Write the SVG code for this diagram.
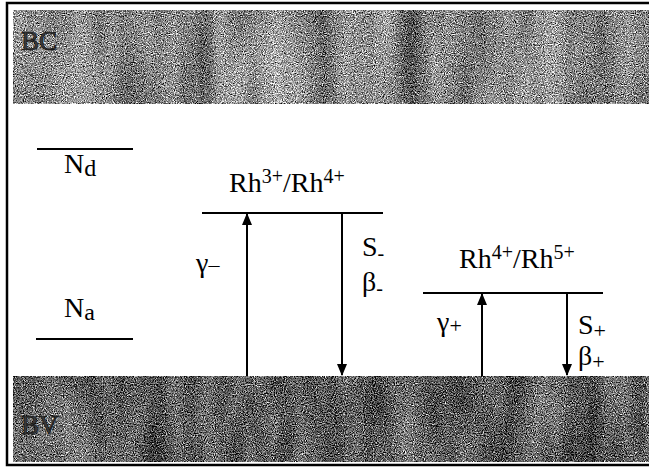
<svg xmlns="http://www.w3.org/2000/svg" width="649" height="468" viewBox="0 0 649 468">
  <style>
    .t { font-family: "Liberation Serif", "DejaVu Serif", "Times New Roman", serif; fill: #000; font-size: 28px; }
    .band-lbl { font-family: "Liberation Serif", "DejaVu Serif", serif; font-size: 27px; fill: #3c3c3c; stroke: #111; stroke-width: 0.7; }
    .lvl { stroke: #000; stroke-width: 2; fill: none; }
    .arr { stroke: #000; stroke-width: 2; fill: none; }
  </style>
  <defs>
    <filter id="noiseLight" x="0" y="0" width="100%" height="100%" color-interpolation-filters="sRGB">
      <feTurbulence type="fractalNoise" baseFrequency="0.9" numOctaves="2" seed="4" result="t1"/>
      <feColorMatrix in="t1" type="matrix" values="0.33 0.33 0.33 0 0  0.33 0.33 0.33 0 0  0.33 0.33 0.33 0 0  0 0 0 0 1" result="g1"/>
      <feTurbulence type="fractalNoise" baseFrequency="0.03 0.006" numOctaves="2" seed="7" result="t2"/>
      <feColorMatrix in="t2" type="matrix" values="0.33 0.33 0.33 0 0  0.33 0.33 0.33 0 0  0.33 0.33 0.33 0 0  0 0 0 0 1" result="g2"/>
      <feComposite in="g1" in2="g2" operator="arithmetic" k2="1" k3="0.3" k4="-0.15" result="m"/>
      <feComponentTransfer in="m" result="c">
        <feFuncR type="linear" slope="3" intercept="-0.98"/>
        <feFuncG type="linear" slope="3" intercept="-0.98"/>
        <feFuncB type="linear" slope="3" intercept="-0.98"/>
        <feFuncA type="linear" slope="0" intercept="1"/>
      </feComponentTransfer>
      <feComposite in="c" in2="SourceGraphic" operator="in"/>
    </filter>
    <filter id="noiseDark" x="0" y="0" width="100%" height="100%" color-interpolation-filters="sRGB">
      <feTurbulence type="fractalNoise" baseFrequency="0.9" numOctaves="2" seed="9" result="t1"/>
      <feColorMatrix in="t1" type="matrix" values="0.33 0.33 0.33 0 0  0.33 0.33 0.33 0 0  0.33 0.33 0.33 0 0  0 0 0 0 1" result="g1"/>
      <feTurbulence type="fractalNoise" baseFrequency="0.03 0.008" numOctaves="2" seed="2" result="t2"/>
      <feColorMatrix in="t2" type="matrix" values="0.33 0.33 0.33 0 0  0.33 0.33 0.33 0 0  0.33 0.33 0.33 0 0  0 0 0 0 1" result="g2"/>
      <feComposite in="g1" in2="g2" operator="arithmetic" k2="1" k3="0.3" k4="-0.15" result="m"/>
      <feComponentTransfer in="m" result="c">
        <feFuncR type="linear" slope="3" intercept="-1.12"/>
        <feFuncG type="linear" slope="3" intercept="-1.12"/>
        <feFuncB type="linear" slope="3" intercept="-1.12"/>
        <feFuncA type="linear" slope="0" intercept="1"/>
      </feComponentTransfer>
      <feComposite in="c" in2="SourceGraphic" operator="in"/>
    </filter>
    <marker id="ah" markerWidth="12" markerHeight="10" refX="11" refY="5" orient="auto" markerUnits="userSpaceOnUse" viewBox="0 0 12 10">
      <path d="M0,0 L12,5 L0,10 Z" fill="#000"/>
    </marker>
  </defs>

  <rect x="0" y="0" width="649" height="468" fill="#fff"/>
  <rect id="frame" x="7" y="3" width="660" height="462" fill="none" stroke="#000" stroke-width="2.5"/>

  <g id="BC">
    <rect x="13" y="10" width="636" height="94" fill="#888" filter="url(#noiseLight)"/>
    <text class="band-lbl" x="21" y="50">BC</text>
  </g>

  <g id="BV">
    <rect x="13" y="376" width="636" height="86" fill="#666" filter="url(#noiseDark)"/>
    <text class="band-lbl" x="21" y="434">BV</text>
  </g>

  <g id="Nd">
    <line class="lvl" x1="37" y1="149" x2="133" y2="149"/>
    <text class="t" x="64" y="173">N<tspan font-size="24" dy="3">d</tspan></text>
  </g>

  <g id="Na">
    <line class="lvl" x1="36" y1="339" x2="133" y2="339"/>
    <text class="t" x="64" y="317">N<tspan font-size="24" dy="3">a</tspan></text>
  </g>

  <g id="Rh34">
    <line class="lvl" x1="202" y1="213" x2="383" y2="213"/>
    <text class="t" x="229" y="192">Rh<tspan font-size="20" dy="-9">3+</tspan><tspan dy="9">/Rh</tspan><tspan font-size="20" dy="-9">4+</tspan></text>
  </g>

  <g id="Rh45">
    <line class="lvl" x1="423" y1="293" x2="603" y2="293"/>
    <text class="t" x="459" y="268">Rh<tspan font-size="20" dy="-9">4+</tspan><tspan dy="9">/Rh</tspan><tspan font-size="20" dy="-9">5+</tspan></text>
  </g>

  <g id="connectors">
    <line class="arr" x1="247" y1="376" x2="247" y2="214" marker-end="url(#ah)"/>
    <line class="arr" x1="342" y1="214" x2="342" y2="375" marker-end="url(#ah)"/>
    <line class="arr" x1="482" y1="376" x2="482" y2="294" marker-end="url(#ah)"/>
    <line class="arr" x1="567" y1="294" x2="567" y2="375" marker-end="url(#ah)"/>
  </g>

  <g id="labels">
    <text class="t" x="196" y="272">γ<tspan font-size="22">–</tspan></text>
    <text class="t" x="362" y="256">S<tspan font-size="20" dy="4">-</tspan></text>
    <text class="t" x="362" y="291">β<tspan font-size="20" dy="4">-</tspan></text>
    <text class="t" x="437" y="331">γ<tspan font-size="22" dy="2">+</tspan></text>
    <text class="t" x="578" y="334">S<tspan font-size="22" dy="4">+</tspan></text>
    <text class="t" x="578" y="365">β<tspan font-size="22" dy="4">+</tspan></text>
  </g>
</svg>
